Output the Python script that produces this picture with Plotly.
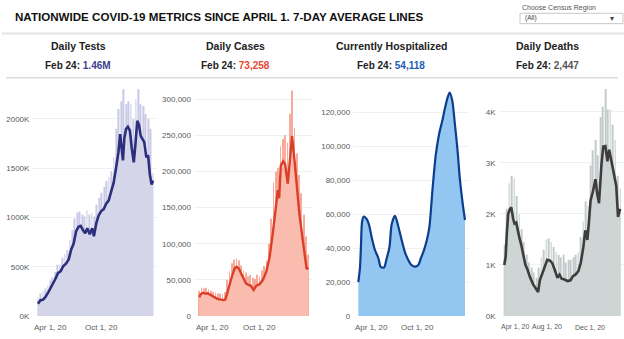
import pandas as pd
import plotly.graph_objects as go

W, H = 624, 339
FONT = "Liberation Sans, Arial, sans-serif"

# ---------------- text ----------------
title_text = "NATIONWIDE COVID-19 METRICS SINCE APRIL 1. 7-DAY AVERAGE LINES"
region_label = "Choose Census Region"
region_value = "(All)"
panel_titles = ["Daily Tests", "Daily Cases", "Currently Hospitalized", "Daily Deaths"]
latest_date_label = "Feb 24"
latest_values = ["1.46M", "73,258", "54,118", "2,447"]

# ---------------- data ----------------
# weekly dates for the daily-peak bars (Apr 1, 2020 .. Feb 24, 2021)
week_dates = [d.strftime("%Y-%m-%d") for d in pd.date_range("2020-04-01", "2021-02-24", freq="7D")]

# Daily tests (thousands)
tests_peak_k = [190, 230, 250, 280, 310, 360, 390, 450, 520, 520,
                590, 630, 670, 770, 870, 990, 1050, 1060, 1030, 1010,
                1070, 1030, 1050, 1010, 1130, 1200, 1250, 1310, 1370, 1410,
                1470, 1610, 1900, 2100, 2180, 2300, 2150, 2180, 2150, 2000,
                2200, 2300, 2150, 2130, 2050, 2000, 1900, 1450]
tests_avg_dates = ["2020-04-01", "2020-04-08", "2020-04-15", "2020-04-22", "2020-05-01", "2020-05-10",
                   "2020-05-20", "2020-05-28", "2020-06-05", "2020-06-12", "2020-06-20", "2020-06-28",
                   "2020-07-05", "2020-07-12", "2020-07-19", "2020-07-26", "2020-08-01", "2020-08-08",
                   "2020-08-14", "2020-08-20", "2020-08-27", "2020-09-03", "2020-09-08", "2020-09-15",
                   "2020-09-22", "2020-09-29", "2020-10-06", "2020-10-13", "2020-10-20", "2020-10-27",
                   "2020-11-03", "2020-11-10", "2020-11-17", "2020-11-22", "2020-11-26", "2020-11-30",
                   "2020-12-04", "2020-12-09", "2020-12-14", "2020-12-20", "2020-12-25", "2020-12-31",
                   "2021-01-05", "2021-01-10", "2021-01-15", "2021-01-20", "2021-01-25", "2021-01-30",
                   "2021-02-05", "2021-02-10", "2021-02-15", "2021-02-20", "2021-02-24"]
tests_avg_k = [125, 160, 165, 190, 245, 300,
               370, 435, 455, 505, 530, 575,
               675, 735, 860, 905, 915, 870,
               840, 890, 830, 890, 810, 945,
               1025, 1065, 1085, 1140, 1170, 1260,
               1345, 1495, 1660, 1845, 1710, 1580,
               1805, 1900, 1920, 1880, 1710, 1560,
               1755, 1980, 1940, 1825, 1795, 1765,
               1610, 1630, 1435, 1335, 1375]

# Daily cases
cases_peak = [35000, 39000, 38000, 39000, 37000, 35000, 33000, 32000, 31000, 31000,
              30000, 33000, 50000, 62000, 73000, 78000, 80000, 77000, 70000, 63000,
              60000, 55000, 57000, 53000, 51000, 57000, 55000, 63000, 69000, 77000,
              100000, 135000, 185000, 200000, 205000, 235000, 245000, 250000, 240000, 280000,
              312000, 260000, 225000, 195000, 170000, 140000, 110000, 85000]
cases_avg_dates = ["2020-04-01", "2020-04-05", "2020-04-12", "2020-04-19", "2020-04-26", "2020-05-03",
                   "2020-05-10", "2020-05-17", "2020-05-24", "2020-05-31", "2020-06-07", "2020-06-14",
                   "2020-06-19", "2020-06-26", "2020-07-03", "2020-07-10", "2020-07-17", "2020-07-22",
                   "2020-07-29", "2020-08-06", "2020-08-13", "2020-08-20", "2020-08-27", "2020-09-03",
                   "2020-09-12", "2020-09-20", "2020-09-30", "2020-10-10", "2020-10-20", "2020-10-30",
                   "2020-11-09", "2020-11-16", "2020-11-24", "2020-11-28", "2020-12-03", "2020-12-10",
                   "2020-12-16", "2020-12-24", "2020-12-31", "2021-01-06", "2021-01-13", "2021-01-21",
                   "2021-01-28", "2021-02-07", "2021-02-14", "2021-02-19", "2021-02-24"]
cases_avg = [26000, 30000, 32000, 31000, 31500, 29500,
             27500, 26000, 24000, 23000, 22500, 22000,
             23000, 33000, 46000, 57000, 66000, 68000,
             66000, 58000, 51000, 45000, 43000, 42000,
             36000, 42000, 44000, 50000, 61000, 81000,
             115000, 147000, 174000, 163000, 208000, 214000,
             210000, 183000, 215000, 249000, 217000, 170000,
             142000, 106000, 78000, 65000, 67000]

# Currently hospitalized
hosp_dates = ["2020-04-01", "2020-04-06", "2020-04-09", "2020-04-13", "2020-04-18", "2020-04-27",
              "2020-05-05", "2020-05-12", "2020-05-22", "2020-06-02", "2020-06-09", "2020-06-19",
              "2020-06-27", "2020-07-06", "2020-07-13", "2020-07-23", "2020-08-02", "2020-08-13",
              "2020-08-23", "2020-09-02", "2020-09-12", "2020-09-23", "2020-10-03", "2020-10-11",
              "2020-10-20", "2020-10-29", "2020-11-06", "2020-11-16", "2020-11-26", "2020-12-06",
              "2020-12-16", "2020-12-25", "2021-01-02", "2021-01-08", "2021-01-16", "2021-01-23",
              "2021-02-01", "2021-02-08", "2021-02-17", "2021-02-24"]
hosp_vals = [20000, 28000, 40000, 56000, 58500, 57000,
             53000, 46500, 39000, 34000, 29000, 28500,
             33500, 40500, 54000, 59000, 53000, 44500,
             37500, 33000, 30000, 29000, 30000, 34000,
             38500, 44500, 52000, 75000, 95000, 107000,
             115000, 123000, 129000, 131500, 126500, 114500,
             97500, 81000, 66000, 56500]

# Daily deaths
deaths_peak = [1400, 2100, 2600, 2750, 2700, 2350, 2000, 1700, 1450, 1200,
               1050, 950, 850, 750, 950, 1150, 1300, 1500, 1520, 1450,
               1350, 1250, 1200, 1150, 1200, 1050, 1100, 1100, 1150, 1200,
               1250, 1550, 1850, 2250, 2150, 2950, 3250, 3450, 3150, 3900,
               4100, 4450, 4050, 4050, 3750, 3450, 2750, 2500]
deaths_avg_dates = ["2020-04-01", "2020-04-05", "2020-04-08", "2020-04-12", "2020-04-17", "2020-04-21",
                    "2020-04-26", "2020-04-30", "2020-05-05", "2020-05-10", "2020-05-14", "2020-05-19",
                    "2020-05-25", "2020-05-31", "2020-06-06", "2020-06-12", "2020-06-22", "2020-07-02",
                    "2020-07-06", "2020-07-11", "2020-07-18", "2020-07-25", "2020-08-01", "2020-08-08",
                    "2020-08-15", "2020-08-22", "2020-08-30", "2020-09-05", "2020-09-11", "2020-09-19",
                    "2020-09-28", "2020-10-06", "2020-10-13", "2020-10-20", "2020-10-28", "2020-11-04",
                    "2020-11-11", "2020-11-17", "2020-11-23", "2020-11-27", "2020-12-02", "2020-12-09",
                    "2020-12-16", "2020-12-21", "2020-12-26", "2021-01-02", "2021-01-07", "2021-01-13",
                    "2021-01-19", "2021-01-24", "2021-01-30", "2021-02-07", "2021-02-13", "2021-02-18",
                    "2021-02-24"]
deaths_avg = [1000, 1165, 1600, 2000, 2100, 2130,
              1910, 1810, 1830, 1620, 1530, 1400,
              1230, 1000, 910, 780, 620, 520,
              470, 700, 840, 1000, 1100, 1090,
              1040, 910, 750, 810, 730, 715,
              685, 700, 780, 810, 876, 1037,
              1326, 1680, 1490, 1810, 2260, 2450,
              2680, 2390, 2210, 2970, 3320, 3330,
              3030, 3260, 3030, 2780, 2550, 1940,
              2100]

# axis ticks
tests_tickvals = [0, 500, 1000, 1500, 2000]
tests_ticktext = ["0K", "500K", "1000K", "1500K", "2000K"]
cases_tickvals = [0, 50000, 100000, 150000, 200000, 250000, 300000]
hosp_tickvals = [0, 20000, 40000, 60000, 80000, 100000, 120000]
deaths_tickvals = [0, 1000, 2000, 3000, 4000]
deaths_ticktext = ["0K", "1K", "2K", "3K", "4K"]
x_ticks_std = ["2020-04-01", "2020-10-01"]
x_ticktext_std = ["Apr 1, 20", "Oct 1, 20"]
x_ticks_deaths = ["2020-04-01", "2020-08-01", "2020-12-01"]
x_ticktext_deaths = ["Apr 1, 20", "Aug 1, 20", "Dec 1, 20"]

# ---------------- styling ----------------
panels = [
    dict(peak=tests_peak_k, ld=tests_avg_dates, lv=tests_avg_k, line="#2b2f7c", fill="#d5d5ea",
         spike="#c9c9e6", lw=2.6, yr=2327, tv=tests_tickvals, tt=tests_ticktext,
         xpx=(38, 153), xt=x_ticks_std, xtt=x_ticktext_std, vcol="#3b3f8e", shape="linear", xfs=8),
    dict(peak=cases_peak, ld=cases_avg_dates, lv=cases_avg, line="#dc3f27", fill="#f9bcae",
         spike="#f7ab9c", lw=2.4, yr=317300, tv=cases_tickvals, tt=[f"{v:,}" for v in cases_tickvals],
         xpx=(199.3, 308.3), xt=x_ticks_std, xtt=x_ticktext_std, vcol="#e6472f", shape="linear", xfs=8),
    dict(peak=None, ld=hosp_dates, lv=hosp_vals, line="#0c3d8f", fill="#93c7f2",
         spike=None, lw=2.2, yr=135000, tv=hosp_tickvals, tt=[f"{v:,}" for v in hosp_tickvals],
         xpx=(358.3, 465), xt=x_ticks_std, xtt=x_ticktext_std, vcol="#1b5cb4", shape="spline", xfs=8),
    dict(peak=deaths_peak, ld=deaths_avg_dates, lv=deaths_avg, line="#3d3d3d", fill="#cfd5d5",
         spike="#c3caca", lw=2.6, yr=4495, tv=deaths_tickvals, tt=deaths_ticktext,
         xpx=(504.3, 620.3), xt=x_ticks_deaths, xtt=x_ticktext_deaths, vcol="#555555", shape="linear", xfs=7),
]
col_centers = [78, 235, 391, 547]

fig = go.Figure()
layout = dict(
    width=W, height=H, margin=dict(l=0, r=0, t=0, b=0),
    paper_bgcolor="white", plot_bgcolor="white", showlegend=False,
    barmode="overlay", font=dict(family=FONT, color="#333"),
)
annotations = []
shapes = []

y_dom = [1 - 320.7 / H, 1 - 88 / H]
DAY = 86400000
x_range = ["2020-03-16", "2021-03-07"]

for i, p in enumerate(panels):
    n = "" if i == 0 else str(i + 1)
    xa, ya = "x" + n, "y" + n
    x0, x1 = p["xpx"]
    ppd = (x1 - x0) / 329.0
    d0 = max(0.0, (x0 - 16 * ppd) / W)
    d1 = min(1.0, (x1 + 11 * ppd) / W)
    if p["peak"] is not None:
        fig.add_trace(go.Bar(x=week_dates, y=p["peak"], width=2.2 * DAY,
                             marker=dict(color=p["spike"], line=dict(width=0)),
                             xaxis=xa, yaxis=ya, hoverinfo="skip"))
    fig.add_trace(go.Scatter(x=p["ld"], y=p["lv"], mode="lines", fill="tozeroy",
                             fillcolor=p["fill"],
                             line=dict(color=p["line"], width=p["lw"], shape=p["shape"], smoothing=0.8),
                             xaxis=xa, yaxis=ya, hoverinfo="skip"))
    layout["xaxis" + n] = dict(domain=[d0, d1], range=x_range, type="date", anchor=ya,
                               showgrid=False, zeroline=False, showline=False,
                               showticklabels=False, ticks="", fixedrange=True)
    layout["yaxis" + n] = dict(domain=y_dom, range=[0, p["yr"]], anchor=xa,
                               tickvals=p["tv"], ticktext=p["tt"], showgrid=True,
                               gridcolor="#f0f0f0", gridwidth=1, zeroline=False,
                               showline=False, ticks="", ticklabelstandoff=2,
                               tickfont=dict(family=FONT, size=8, color="#5a5a5a"),
                               fixedrange=True)
    # x tick labels
    for j, (tv, tt) in enumerate(zip(p["xt"], p["xtt"])):
        annotations.append(dict(x=tv, y=1 - 332 / H, xref=xa, yref="paper",
                                text=tt, showarrow=False,
                                xanchor="left" if j == 0 else "center",
                                xshift=-5.5 if j == 0 else 0,
                                yanchor="middle",
                                font=dict(family=FONT, size=p["xfs"], color="#5a5a5a")))
    # headers
    annotations.append(dict(x=col_centers[i] / W, y=1 - 46.5 / H, xref="paper", yref="paper",
                            text=f"<b>{panel_titles[i]}</b>", showarrow=False,
                            xanchor="center", yanchor="middle",
                            font=dict(family=FONT, size=10.5, color="#222")))
    annotations.append(dict(x=col_centers[i] / W, y=1 - 66.5 / H, xref="paper", yref="paper",
                            text=f"<b>{latest_date_label}: <span style='color:{p['vcol']}'>{latest_values[i]}</span></b>",
                            showarrow=False, xanchor="center", yanchor="middle",
                            font=dict(family=FONT, size=10, color="#222")))

# title
annotations.append(dict(x=13 / W, y=1 - 16.7 / H, xref="paper", yref="paper",
                        text=f"<b>{title_text}</b>", showarrow=False,
                        xanchor="left", yanchor="middle",
                        font=dict(family=FONT, size=11.6, color="#111")))
# dropdown look-alike
annotations.append(dict(x=520 / W, y=1 - 8 / H, xref="paper", yref="paper",
                        text=region_label, showarrow=False, xanchor="left", yanchor="middle",
                        font=dict(family=FONT, size=7, color="#555")))
annotations.append(dict(x=523 / W, y=1 - 18.7 / H, xref="paper", yref="paper",
                        text=region_value, showarrow=False, xanchor="left", yanchor="middle",
                        font=dict(family=FONT, size=6.5, color="#444")))
annotations.append(dict(x=612 / W, y=1 - 18.7 / H, xref="paper", yref="paper",
                        text="▾", showarrow=False, xanchor="center", yanchor="middle",
                        font=dict(family=FONT, size=8, color="#444")))
shapes.append(dict(type="rect", xref="paper", yref="paper",
                   x0=520 / W, x1=623 / W, y0=1 - 24 / H, y1=1 - 13.5 / H,
                   line=dict(color="#c8c8c8", width=1), fillcolor="white", layer="below"))
# separators
shapes.append(dict(type="line", xref="paper", yref="paper", x0=2 / W, x1=1, y0=1 - 34 / H, y1=1 - 34 / H,
                   line=dict(color="#e4e4e4", width=2)))
shapes.append(dict(type="line", xref="paper", yref="paper", x0=6 / W, x1=618 / W, y0=1 - 79 / H, y1=1 - 79 / H,
                   line=dict(color="#dcdcdc", width=1.5)))

layout["annotations"] = annotations
layout["shapes"] = shapes
fig.update_layout(**layout)
fig.write_html("out.html")
